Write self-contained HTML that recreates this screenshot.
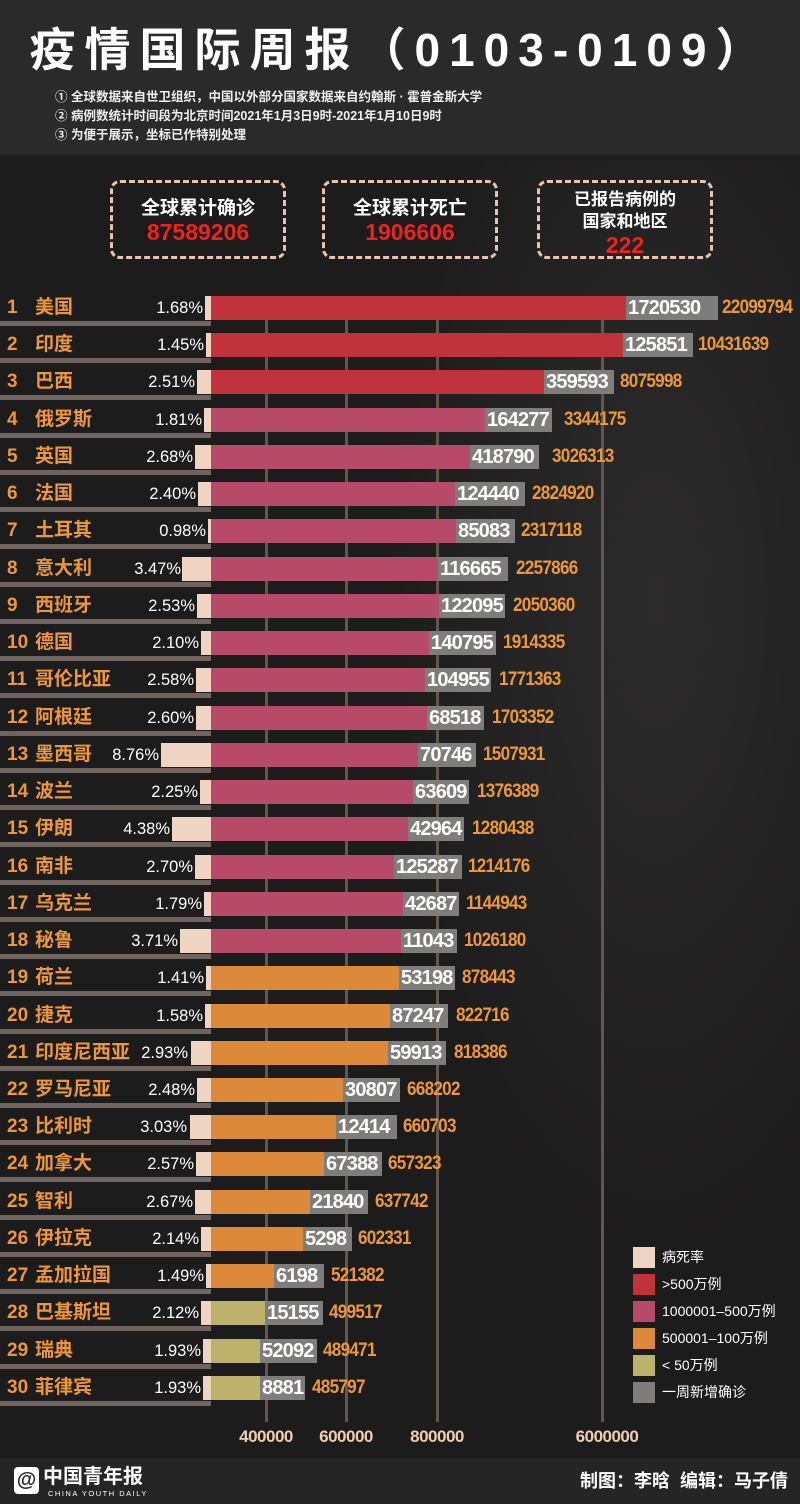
<!DOCTYPE html>
<html><head><meta charset="utf-8"><style>
*{margin:0;padding:0;box-sizing:border-box}
body{width:800px;height:1504px;position:relative;overflow:hidden;background:#1d1c1c;font-family:"Liberation Sans","Noto Sans CJK SC",sans-serif}
.a{position:absolute;white-space:nowrap}
.hdr{left:0;top:0;width:800px;height:155px;background:#2b2a2a}
.map{left:380px;top:160px;width:460px;height:1100px;background:radial-gradient(ellipse at 60% 40%,#2c2b2b 0%,#232222 45%,rgba(29,28,28,0) 70%)}
.title{left:0;width:800px;top:22px;text-align:center;color:#fff;font-weight:bold;font-size:46px;letter-spacing:9px;line-height:56px}
.note{left:55px;color:#eee;font-weight:bold;font-size:12.5px;line-height:16px}
.box{border:3px dashed #e6c4b0;border-radius:10px;text-align:center;color:#fff;font-weight:bold}
.box .l{font-size:19px;line-height:22px}
.box .n{color:#f0221f;font-size:23px;line-height:24px}
.grid{width:3px;top:318px;height:1104px;background:#62574f}
.un{left:0;width:211px;height:5px;background:#6f655e}
.lab{left:7px;color:#ec973a;font-weight:bold;font-size:19px;line-height:24px}
.lab b{display:inline-block;width:28px}
.pct{color:#fff;font-size:16.5px;line-height:24px;text-align:right}
.pale{background:#efd4c2;height:24px}
.bar{height:24px}
.gr{height:24px;background:#7e7d7c;color:#fff;font-weight:bold;font-size:20px;letter-spacing:-0.8px;line-height:24px;padding-left:2px}
.tot{color:#ec973a;font-weight:bold;font-size:19px;letter-spacing:-0.8px;line-height:24px;transform:scaleX(.9);transform-origin:0 50%}
.lg{left:633px;width:22px;height:21px}
.lt{left:662px;color:#fff;font-size:14px;line-height:21px}
.ax{color:#f0cdb0;font-weight:bold;font-size:17px;letter-spacing:-0.5px;width:80px;text-align:center;top:1427px}
.foot{left:0;top:1458px;width:800px;height:46px;background:#262525}
</style></head><body>
<div class="a hdr"></div>
<div class="a map"></div>
<div class="a title">疫情国际周报（0103-0109）</div>
<div class="a note" style="top:89px">① 全球数据来自世卫组织，中国以外部分国家数据来自约翰斯 · 霍普金斯大学</div>
<div class="a note" style="top:108px">② 病例数统计时间段为北京时间2021年1月3日9时-2021年1月10日9时</div>
<div class="a note" style="top:127px">③ 为便于展示，坐标已作特别处理</div>

<div class="a box" style="left:110px;top:180px;width:176px;height:79px;padding-top:15px"><div class="l">全球累计确诊</div><div class="n">87589206</div></div>
<div class="a box" style="left:322px;top:180px;width:176px;height:79px;padding-top:15px"><div class="l">全球累计死亡</div><div class="n">1906606</div></div>
<div class="a box" style="left:537px;top:180px;width:176px;height:79px;padding-top:6px"><div class="l" style="font-size:17px">已报告病例的</div><div class="l" style="font-size:17px">国家和地区</div><div class="n">222</div></div>

<div class="a grid" style="left:265px"></div>
<div class="a grid" style="left:345px"></div>
<div class="a grid" style="left:436px"></div>
<div class="a grid" style="left:601px"></div>

<div class="a" style="left:0;top:296px;width:800px;height:37px"><div class="a lab" style="top:0"><b>1</b>美国</div><div class="a pct" style="right:597px;top:0">1.68%</div><div class="a pale" style="left:205px;width:6px;top:0"></div><div class="a bar" style="left:211px;width:415px;top:0;background:#c0333a"></div><div class="a gr" style="left:626px;width:92px;top:0">1720530</div><div class="a tot" style="left:722px;top:0">22099794</div><div class="a un" style="top:25px"></div></div>
<div class="a" style="left:0;top:333px;width:800px;height:37px"><div class="a lab" style="top:0"><b>2</b>印度</div><div class="a pct" style="right:596px;top:0">1.45%</div><div class="a pale" style="left:206px;width:5px;top:0"></div><div class="a bar" style="left:211px;width:412px;top:0;background:#c0333a"></div><div class="a gr" style="left:623px;width:70px;top:0">125851</div><div class="a tot" style="left:698px;top:0">10431639</div><div class="a un" style="top:25px"></div></div>
<div class="a" style="left:0;top:370px;width:800px;height:37px"><div class="a lab" style="top:0"><b>3</b>巴西</div><div class="a pct" style="right:605px;top:0">2.51%</div><div class="a pale" style="left:197px;width:14px;top:0"></div><div class="a bar" style="left:211px;width:333px;top:0;background:#c0333a"></div><div class="a gr" style="left:544px;width:70px;top:0">359593</div><div class="a tot" style="left:620px;top:0">8075998</div><div class="a un" style="top:25px"></div></div>
<div class="a" style="left:0;top:408px;width:800px;height:37px"><div class="a lab" style="top:0"><b>4</b>俄罗斯</div><div class="a pct" style="right:598px;top:0">1.81%</div><div class="a pale" style="left:204px;width:7px;top:0"></div><div class="a bar" style="left:211px;width:274px;top:0;background:#b84a69"></div><div class="a gr" style="left:485px;width:67px;top:0">164277</div><div class="a tot" style="left:564px;top:0">3344175</div><div class="a un" style="top:25px"></div></div>
<div class="a" style="left:0;top:445px;width:800px;height:37px"><div class="a lab" style="top:0"><b>5</b>英国</div><div class="a pct" style="right:607px;top:0">2.68%</div><div class="a pale" style="left:195px;width:16px;top:0"></div><div class="a bar" style="left:211px;width:259px;top:0;background:#b84a69"></div><div class="a gr" style="left:470px;width:69px;top:0">418790</div><div class="a tot" style="left:552px;top:0">3026313</div><div class="a un" style="top:25px"></div></div>
<div class="a" style="left:0;top:482px;width:800px;height:37px"><div class="a lab" style="top:0"><b>6</b>法国</div><div class="a pct" style="right:604px;top:0">2.40%</div><div class="a pale" style="left:198px;width:13px;top:0"></div><div class="a bar" style="left:211px;width:244px;top:0;background:#b84a69"></div><div class="a gr" style="left:455px;width:70px;top:0">124440</div><div class="a tot" style="left:532px;top:0">2824920</div><div class="a un" style="top:25px"></div></div>
<div class="a" style="left:0;top:519px;width:800px;height:37px"><div class="a lab" style="top:0"><b>7</b>土耳其</div><div class="a pct" style="right:594px;top:0">0.98%</div><div class="a pale" style="left:208px;width:3px;top:0"></div><div class="a bar" style="left:211px;width:245px;top:0;background:#b84a69"></div><div class="a gr" style="left:456px;width:59px;top:0">85083</div><div class="a tot" style="left:521px;top:0">2317118</div><div class="a un" style="top:25px"></div></div>
<div class="a" style="left:0;top:557px;width:800px;height:37px"><div class="a lab" style="top:0"><b>8</b>意大利</div><div class="a pct" style="right:619px;top:0">3.47%</div><div class="a pale" style="left:182px;width:29px;top:0"></div><div class="a bar" style="left:211px;width:227px;top:0;background:#b84a69"></div><div class="a gr" style="left:438px;width:70px;top:0">116665</div><div class="a tot" style="left:516px;top:0">2257866</div><div class="a un" style="top:25px"></div></div>
<div class="a" style="left:0;top:594px;width:800px;height:37px"><div class="a lab" style="top:0"><b>9</b>西班牙</div><div class="a pct" style="right:605px;top:0">2.53%</div><div class="a pale" style="left:197px;width:14px;top:0"></div><div class="a bar" style="left:211px;width:228px;top:0;background:#b84a69"></div><div class="a gr" style="left:439px;width:66px;top:0">122095</div><div class="a tot" style="left:513px;top:0">2050360</div><div class="a un" style="top:25px"></div></div>
<div class="a" style="left:0;top:631px;width:800px;height:37px"><div class="a lab" style="top:0"><b>10</b>德国</div><div class="a pct" style="right:601px;top:0">2.10%</div><div class="a pale" style="left:201px;width:10px;top:0"></div><div class="a bar" style="left:211px;width:218px;top:0;background:#b84a69"></div><div class="a gr" style="left:429px;width:67px;top:0">140795</div><div class="a tot" style="left:503px;top:0">1914335</div><div class="a un" style="top:25px"></div></div>
<div class="a" style="left:0;top:668px;width:800px;height:37px"><div class="a lab" style="top:0"><b>11</b>哥伦比亚</div><div class="a pct" style="right:606px;top:0">2.58%</div><div class="a pale" style="left:196px;width:15px;top:0"></div><div class="a bar" style="left:211px;width:214px;top:0;background:#b84a69"></div><div class="a gr" style="left:425px;width:66px;top:0">104955</div><div class="a tot" style="left:499px;top:0">1771363</div><div class="a un" style="top:25px"></div></div>
<div class="a" style="left:0;top:706px;width:800px;height:37px"><div class="a lab" style="top:0"><b>12</b>阿根廷</div><div class="a pct" style="right:606px;top:0">2.60%</div><div class="a pale" style="left:196px;width:15px;top:0"></div><div class="a bar" style="left:211px;width:216px;top:0;background:#b84a69"></div><div class="a gr" style="left:427px;width:57px;top:0">68518</div><div class="a tot" style="left:492px;top:0">1703352</div><div class="a un" style="top:25px"></div></div>
<div class="a" style="left:0;top:743px;width:800px;height:37px"><div class="a lab" style="top:0"><b>13</b>墨西哥</div><div class="a pct" style="right:641px;top:0">8.76%</div><div class="a pale" style="left:161px;width:50px;top:0"></div><div class="a bar" style="left:211px;width:207px;top:0;background:#b84a69"></div><div class="a gr" style="left:418px;width:58px;top:0">70746</div><div class="a tot" style="left:483px;top:0">1507931</div><div class="a un" style="top:25px"></div></div>
<div class="a" style="left:0;top:780px;width:800px;height:37px"><div class="a lab" style="top:0"><b>14</b>波兰</div><div class="a pct" style="right:602px;top:0">2.25%</div><div class="a pale" style="left:200px;width:11px;top:0"></div><div class="a bar" style="left:211px;width:202px;top:0;background:#b84a69"></div><div class="a gr" style="left:413px;width:56px;top:0">63609</div><div class="a tot" style="left:477px;top:0">1376389</div><div class="a un" style="top:25px"></div></div>
<div class="a" style="left:0;top:817px;width:800px;height:37px"><div class="a lab" style="top:0"><b>15</b>伊朗</div><div class="a pct" style="right:630px;top:0">4.38%</div><div class="a pale" style="left:172px;width:39px;top:0"></div><div class="a bar" style="left:211px;width:197px;top:0;background:#b84a69"></div><div class="a gr" style="left:408px;width:56px;top:0">42964</div><div class="a tot" style="left:472px;top:0">1280438</div><div class="a un" style="top:25px"></div></div>
<div class="a" style="left:0;top:855px;width:800px;height:37px"><div class="a lab" style="top:0"><b>16</b>南非</div><div class="a pct" style="right:607px;top:0">2.70%</div><div class="a pale" style="left:195px;width:16px;top:0"></div><div class="a bar" style="left:211px;width:183px;top:0;background:#b84a69"></div><div class="a gr" style="left:394px;width:68px;top:0">125287</div><div class="a tot" style="left:468px;top:0">1214176</div><div class="a un" style="top:25px"></div></div>
<div class="a" style="left:0;top:892px;width:800px;height:37px"><div class="a lab" style="top:0"><b>17</b>乌克兰</div><div class="a pct" style="right:598px;top:0">1.79%</div><div class="a pale" style="left:204px;width:7px;top:0"></div><div class="a bar" style="left:211px;width:192px;top:0;background:#b84a69"></div><div class="a gr" style="left:403px;width:56px;top:0">42687</div><div class="a tot" style="left:466px;top:0">1144943</div><div class="a un" style="top:25px"></div></div>
<div class="a" style="left:0;top:929px;width:800px;height:37px"><div class="a lab" style="top:0"><b>18</b>秘鲁</div><div class="a pct" style="right:622px;top:0">3.71%</div><div class="a pale" style="left:180px;width:31px;top:0"></div><div class="a bar" style="left:211px;width:190px;top:0;background:#b84a69"></div><div class="a gr" style="left:401px;width:56px;top:0">11043</div><div class="a tot" style="left:464px;top:0">1026180</div><div class="a un" style="top:25px"></div></div>
<div class="a" style="left:0;top:966px;width:800px;height:37px"><div class="a lab" style="top:0"><b>19</b>荷兰</div><div class="a pct" style="right:596px;top:0">1.41%</div><div class="a pale" style="left:206px;width:5px;top:0"></div><div class="a bar" style="left:211px;width:188px;top:0;background:#dc8a3a"></div><div class="a gr" style="left:399px;width:56px;top:0">53198</div><div class="a tot" style="left:462px;top:0">878443</div><div class="a un" style="top:25px"></div></div>
<div class="a" style="left:0;top:1004px;width:800px;height:37px"><div class="a lab" style="top:0"><b>20</b>捷克</div><div class="a pct" style="right:597px;top:0">1.58%</div><div class="a pale" style="left:205px;width:6px;top:0"></div><div class="a bar" style="left:211px;width:179px;top:0;background:#dc8a3a"></div><div class="a gr" style="left:390px;width:58px;top:0">87247</div><div class="a tot" style="left:456px;top:0">822716</div><div class="a un" style="top:25px"></div></div>
<div class="a" style="left:0;top:1041px;width:800px;height:37px"><div class="a lab" style="top:0"><b>21</b>印度尼西亚</div><div class="a pct" style="right:612px;top:0">2.93%</div><div class="a pale" style="left:191px;width:20px;top:0"></div><div class="a bar" style="left:211px;width:177px;top:0;background:#dc8a3a"></div><div class="a gr" style="left:388px;width:58px;top:0">59913</div><div class="a tot" style="left:454px;top:0">818386</div><div class="a un" style="top:25px"></div></div>
<div class="a" style="left:0;top:1078px;width:800px;height:37px"><div class="a lab" style="top:0"><b>22</b>罗马尼亚</div><div class="a pct" style="right:605px;top:0">2.48%</div><div class="a pale" style="left:197px;width:14px;top:0"></div><div class="a bar" style="left:211px;width:132px;top:0;background:#dc8a3a"></div><div class="a gr" style="left:343px;width:57px;top:0">30807</div><div class="a tot" style="left:407px;top:0">668202</div><div class="a un" style="top:25px"></div></div>
<div class="a" style="left:0;top:1115px;width:800px;height:37px"><div class="a lab" style="top:0"><b>23</b>比利时</div><div class="a pct" style="right:613px;top:0">3.03%</div><div class="a pale" style="left:190px;width:21px;top:0"></div><div class="a bar" style="left:211px;width:125px;top:0;background:#dc8a3a"></div><div class="a gr" style="left:336px;width:61px;top:0">12414</div><div class="a tot" style="left:403px;top:0">660703</div><div class="a un" style="top:25px"></div></div>
<div class="a" style="left:0;top:1152px;width:800px;height:37px"><div class="a lab" style="top:0"><b>24</b>加拿大</div><div class="a pct" style="right:606px;top:0">2.57%</div><div class="a pale" style="left:196px;width:15px;top:0"></div><div class="a bar" style="left:211px;width:113px;top:0;background:#dc8a3a"></div><div class="a gr" style="left:324px;width:58px;top:0">67388</div><div class="a tot" style="left:388px;top:0">657323</div><div class="a un" style="top:25px"></div></div>
<div class="a" style="left:0;top:1190px;width:800px;height:37px"><div class="a lab" style="top:0"><b>25</b>智利</div><div class="a pct" style="right:607px;top:0">2.67%</div><div class="a pale" style="left:195px;width:16px;top:0"></div><div class="a bar" style="left:211px;width:99px;top:0;background:#dc8a3a"></div><div class="a gr" style="left:310px;width:58px;top:0">21840</div><div class="a tot" style="left:375px;top:0">637742</div><div class="a un" style="top:25px"></div></div>
<div class="a" style="left:0;top:1227px;width:800px;height:37px"><div class="a lab" style="top:0"><b>26</b>伊拉克</div><div class="a pct" style="right:601px;top:0">2.14%</div><div class="a pale" style="left:201px;width:10px;top:0"></div><div class="a bar" style="left:211px;width:92px;top:0;background:#dc8a3a"></div><div class="a gr" style="left:303px;width:49px;top:0">5298</div><div class="a tot" style="left:358px;top:0">602331</div><div class="a un" style="top:25px"></div></div>
<div class="a" style="left:0;top:1264px;width:800px;height:37px"><div class="a lab" style="top:0"><b>27</b>孟加拉国</div><div class="a pct" style="right:596px;top:0">1.49%</div><div class="a pale" style="left:206px;width:5px;top:0"></div><div class="a bar" style="left:211px;width:63px;top:0;background:#dc8a3a"></div><div class="a gr" style="left:274px;width:50px;top:0">6198</div><div class="a tot" style="left:331px;top:0">521382</div><div class="a un" style="top:25px"></div></div>
<div class="a" style="left:0;top:1301px;width:800px;height:37px"><div class="a lab" style="top:0"><b>28</b>巴基斯坦</div><div class="a pct" style="right:601px;top:0">2.12%</div><div class="a pale" style="left:201px;width:10px;top:0"></div><div class="a bar" style="left:211px;width:54px;top:0;background:#bdb26b"></div><div class="a gr" style="left:265px;width:58px;top:0">15155</div><div class="a tot" style="left:329px;top:0">499517</div><div class="a un" style="top:25px"></div></div>
<div class="a" style="left:0;top:1339px;width:800px;height:37px"><div class="a lab" style="top:0"><b>29</b>瑞典</div><div class="a pct" style="right:599px;top:0">1.93%</div><div class="a pale" style="left:203px;width:8px;top:0"></div><div class="a bar" style="left:211px;width:49px;top:0;background:#bdb26b"></div><div class="a gr" style="left:260px;width:57px;top:0">52092</div><div class="a tot" style="left:323px;top:0">489471</div><div class="a un" style="top:25px"></div></div>
<div class="a" style="left:0;top:1376px;width:800px;height:37px"><div class="a lab" style="top:0"><b>30</b>菲律宾</div><div class="a pct" style="right:599px;top:0">1.93%</div><div class="a pale" style="left:203px;width:8px;top:0"></div><div class="a bar" style="left:211px;width:49px;top:0;background:#bdb26b"></div><div class="a gr" style="left:260px;width:45px;top:0">8881</div><div class="a tot" style="left:312px;top:0">485797</div><div class="a un" style="top:25px"></div></div>

<div class="a lg" style="top:1247px;background:#efd4c2"></div><div class="a lt" style="top:1247px">病死率</div>
<div class="a lg" style="top:1274px;background:#c0333a"></div><div class="a lt" style="top:1274px">&gt;500万例</div>
<div class="a lg" style="top:1301px;background:#b84a69"></div><div class="a lt" style="top:1301px">1000001–500万例</div>
<div class="a lg" style="top:1328px;background:#dc8a3a"></div><div class="a lt" style="top:1328px">500001–100万例</div>
<div class="a lg" style="top:1355px;background:#bdb26b"></div><div class="a lt" style="top:1355px">&lt; 50万例</div>
<div class="a lg" style="top:1382px;background:#7e7d7c"></div><div class="a lt" style="top:1382px">一周新增确诊</div>

<div class="a ax" style="left:226px">400000</div>
<div class="a ax" style="left:306px">600000</div>
<div class="a ax" style="left:397px">800000</div>
<div class="a ax" style="left:567px">6000000</div>

<div class="a foot"></div>
<div class="a" style="left:14px;top:1467px;width:25px;height:27px;background:#fff;border-radius:4px;color:#262525;font-weight:bold;font-size:20px;line-height:27px;text-align:center">@</div>
<div class="a" style="left:43px;top:1465px;color:#fff;font-weight:bold;font-size:20px;line-height:24px">中国青年报</div>
<div class="a" style="left:48px;top:1489px;color:#fff;font-size:7.5px;letter-spacing:1.5px;line-height:10px">CHINA YOUTH DAILY</div>
<div class="a" style="right:12px;top:1469px;color:#fff;font-weight:bold;font-size:18px;line-height:24px">制图：李晗&nbsp;&nbsp;编辑：马子倩</div>
</body></html>
